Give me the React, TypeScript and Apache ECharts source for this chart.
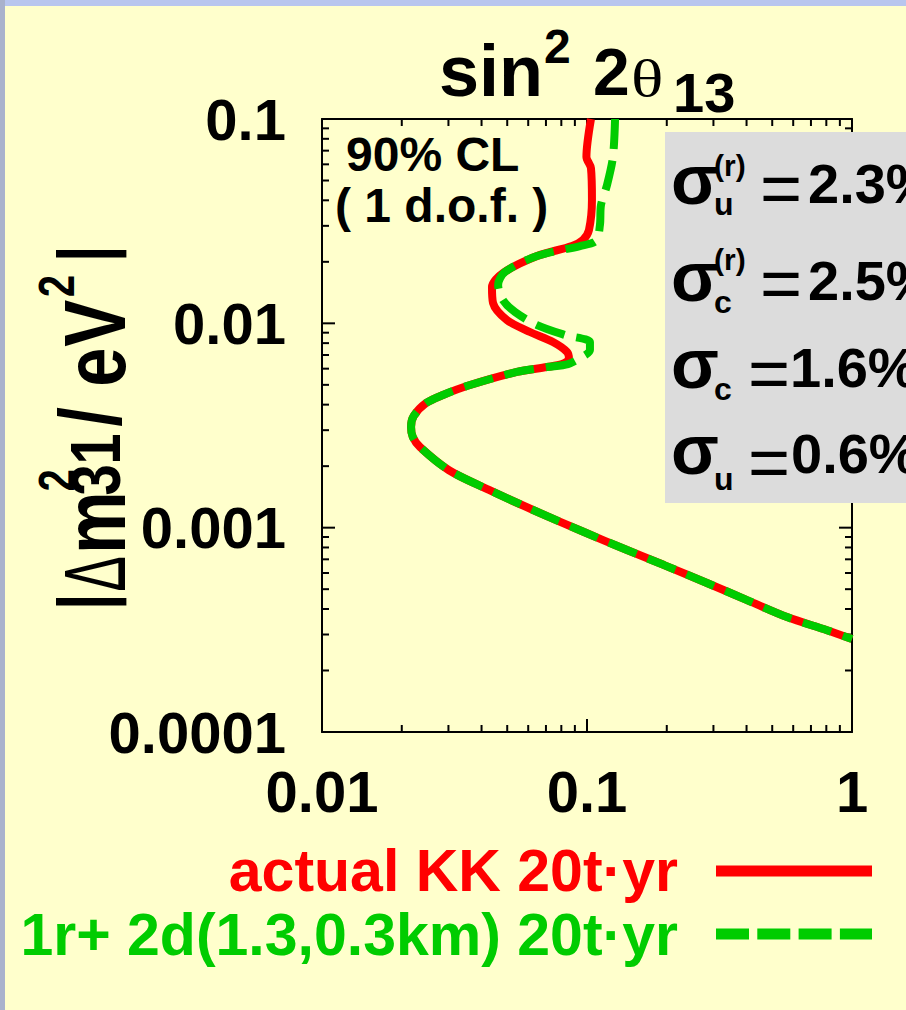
import React, { useEffect, useRef } from "react";
import * as echarts from "echarts";

// ---- axis ticks / labels ----
const xMajorTicks = [0.01, 0.1, 1];
const xTickLabels = ["0.01", "0.1", "1"];
const yMajorTicks = [0.0001, 0.001, 0.01, 0.1];
const yTickLabels = ["0.0001", "0.001", "0.01", "0.1"];
const minorMultipliers = [2, 3, 4, 5, 6, 7, 8, 9];

// ---- curves: sin^2 2theta13 (x) vs |dm^2_31| (y) ----
const redSin2 = [
  0.1035, 0.0995, 0.1035, 0.1044, 0.1017, 0.0966, 0.0878, 0.0648, 0.0482, 0.0438,
  0.0442, 0.0499, 0.0609, 0.0744, 0.0841, 0.0855, 0.0805, 0.0706, 0.0544, 0.0362,
  0.0286, 0.0247, 0.0222, 0.02168, 0.022, 0.02343, 0.03014, 0.04268, 0.0626, 0.0974,
  0.1416, 0.1953, 0.2836, 0.4017, 0.5685, 0.805, 1.0,
];
const redDm2 = [
  0.1, 0.0652, 0.0575, 0.0401, 0.0286, 0.0256, 0.0239, 0.02135, 0.01763, 0.01505,
  0.01258, 0.01038, 0.00907, 0.0081, 0.00724, 0.00669, 0.00632, 0.00611, 0.00578, 0.00499,
  0.00446, 0.00407, 0.00352, 0.00311, 0.00278, 0.00248, 0.00191, 0.00153, 0.00122, 0.000952,
  0.000777, 0.000656, 0.000536, 0.000442, 0.000365, 0.000315, 0.000285,
];
const greenSin2 = [
  0.1276, 0.1253, 0.119, 0.1129, 0.1119, 0.1081, 0.0941, 0.0648, 0.049, 0.0462,
  0.0482, 0.0535, 0.0648, 0.0826, 0.1026, 0.1026, 0.0941, 0.0848, 0.0706, 0.0544,
  0.0362, 0.0286, 0.0247, 0.0222, 0.02168, 0.022, 0.02343, 0.03014, 0.04268, 0.0626,
  0.0974, 0.1416, 0.1953, 0.2836, 0.4017, 0.5685, 0.805, 1.0,
];
const greenDm2 = [
  0.1, 0.0652, 0.0475, 0.0379, 0.0303, 0.0253, 0.0239, 0.02135, 0.01783, 0.0154,
  0.013, 0.01136, 0.00981, 0.00877, 0.0081, 0.0074, 0.00676, 0.00632, 0.00611, 0.00578,
  0.00499, 0.00446, 0.00407, 0.00352, 0.00311, 0.00278, 0.00248, 0.00191, 0.00153, 0.00122,
  0.000952, 0.000777, 0.000656, 0.000536, 0.000442, 0.000365, 0.000315, 0.000285,
];

const seriesNames = ["actual KK 20t\u00B7yr", "1r+ 2d(1.3,0.3km) 20t\u00B7yr"];

const FONT = '"Liberation Sans", Arial, Helvetica, sans-serif';
const SERIF = '"Liberation Serif", "Times New Roman", serif';

function minorOf(majors: number[]) {
  const out: number[] = [];
  for (let i = 0; i < majors.length - 1; i++) {
    for (const m of minorMultipliers) out.push(Number((m * majors[i]).toPrecision(6)));
  }
  return out;
}

function labelFor(v: number, majors: number[], labels: string[]) {
  const i = Math.round(Math.log10(v) - Math.log10(majors[0]));
  return labels[i] ?? "";
}

type TOpts = {
  weight?: string;
  family?: string;
  fill?: string;
  align?: string;
  z?: number;
  scaleX?: number;
};
function txt(text: string, x: number, y: number, fontSize: number, o: TOpts = {}) {
  return {
    type: "text",
    x,
    y,
    z: o.z ?? 60,
    scaleX: o.scaleX ?? 1,
    silent: true,
    style: {
      text,
      fontSize,
      fontWeight: o.weight ?? "bold",
      fontFamily: o.family ?? FONT,
      fill: o.fill ?? "#000",
      align: o.align ?? "left",
      verticalAlign: "middle",
    },
  };
}

export default function App() {
  const ref = useRef<HTMLDivElement>(null);

  useEffect(() => {
    document.body.style.margin = "0";
    if (!ref.current) return;
    const chart = echarts.init(ref.current, null, { renderer: "svg" });

    const yTickData = [
      ...yMajorTicks.map((v) => [xMajorTicks[0], v, 1]),
      ...minorOf(yMajorTicks).map((v) => [xMajorTicks[0], v, 0]),
    ];
    const xTickData = [
      ...xMajorTicks.map((v) => [v, yMajorTicks[0], 1]),
      ...minorOf(xMajorTicks).map((v) => [v, yMajorTicks[0], 0]),
    ];
    const tickStyle = { stroke: "#000", lineWidth: 2 };

    const axisLine = { show: true, onZero: false, lineStyle: { color: "#000", width: 2 } };

    const option: any = {
      animation: false,
      backgroundColor: "#FFFFCC",
      textStyle: { fontFamily: FONT },
      grid: { left: 322, top: 119, width: 530, height: 613, containLabel: false },
      xAxis: [
        {
          type: "log",
          logBase: 10,
          min: 0.01,
          max: 1,
          position: "bottom",
          axisLine,
          axisTick: { show: false },
          splitLine: { show: false },
          minorTick: { show: false },
          axisLabel: {
            fontSize: 58,
            fontWeight: "bold",
            color: "#000",
            fontFamily: FONT,
            margin: 30,
            formatter: (v: number) => labelFor(v, xMajorTicks, xTickLabels),
          },
        },
        {
          type: "log",
          logBase: 10,
          min: 0.01,
          max: 1,
          position: "top",
          axisLine,
          axisTick: { show: false },
          splitLine: { show: false },
          axisLabel: { show: false },
        },
      ],
      yAxis: [
        {
          type: "log",
          logBase: 10,
          min: 0.0001,
          max: 0.1,
          position: "left",
          axisLine,
          axisTick: { show: false },
          splitLine: { show: false },
          minorTick: { show: false },
          axisLabel: {
            fontSize: 58,
            fontWeight: "bold",
            color: "#000",
            fontFamily: FONT,
            margin: 36,
            formatter: (v: number) => labelFor(v, yMajorTicks, yTickLabels),
          },
        },
        {
          type: "log",
          logBase: 10,
          min: 0.0001,
          max: 0.1,
          position: "right",
          axisLine,
          axisTick: { show: false },
          splitLine: { show: false },
          axisLabel: { show: false },
        },
      ],
      series: [
        {
          name: "yticks",
          type: "custom",
          xAxisIndex: 0,
          yAxisIndex: 0,
          clip: false,
          silent: true,
          z: 5,
          encode: { x: 0, y: 1 },
          data: yTickData,
          renderItem: (params: any, api: any) => {
            const cs = params.coordSys;
            const p = api.coord([api.value(0), api.value(1)]);
            const len = api.value(2) ? 13 : 7;
            return {
              type: "group",
              children: [
                { type: "line", shape: { x1: cs.x, y1: p[1], x2: cs.x + len, y2: p[1] }, style: tickStyle },
                {
                  type: "line",
                  shape: { x1: cs.x + cs.width, y1: p[1], x2: cs.x + cs.width - len, y2: p[1] },
                  style: tickStyle,
                },
              ],
            };
          },
        },
        {
          name: "xticks",
          type: "custom",
          xAxisIndex: 0,
          yAxisIndex: 0,
          clip: false,
          silent: true,
          z: 5,
          encode: { x: 0, y: 1 },
          data: xTickData,
          renderItem: (params: any, api: any) => {
            const cs = params.coordSys;
            const p = api.coord([api.value(0), api.value(1)]);
            const len = api.value(2) ? 13 : 7;
            return {
              type: "group",
              children: [
                {
                  type: "line",
                  shape: { x1: p[0], y1: cs.y + cs.height, x2: p[0], y2: cs.y + cs.height - len },
                  style: tickStyle,
                },
                { type: "line", shape: { x1: p[0], y1: cs.y, x2: p[0], y2: cs.y + len }, style: tickStyle },
              ],
            };
          },
        },
        {
          name: seriesNames[0],
          type: "line",
          xAxisIndex: 0,
          yAxisIndex: 0,
          z: 6,
          symbol: "none",
          showSymbol: false,
          smooth: 0.3,
          lineStyle: { color: "#FF0000", width: 8 },
          data: redSin2.map((x, i) => [x, redDm2[i]]),
        },
        {
          name: seriesNames[1],
          type: "line",
          xAxisIndex: 0,
          yAxisIndex: 0,
          z: 7,
          symbol: "none",
          showSymbol: false,
          smooth: 0.3,
          lineStyle: { color: "#00CC00", width: 8, type: [30, 12] },
          data: greenSin2.map((x, i) => [x, greenDm2[i]]),
        },
      ],
      graphic: {
        elements: [
          // slide border strips
          { type: "rect", z: 1, silent: true, shape: { x: 0, y: 0, width: 906, height: 6 }, style: { fill: "#B8C6EE" } },
          { type: "rect", z: 1, silent: true, shape: { x: 0, y: 0, width: 5, height: 1010 }, style: { fill: "#A9B2CC" } },

          // title: sin^2 2θ13
          txt("sin", 439, 71, 72),
          txt("2", 544, 46, 48),
          txt("2", 593, 72, 66),
          txt("\u03B8", 631, 78, 52, { weight: "normal", family: SERIF, scaleX: 1.3 }),
          txt("13", 673, 92, 56),

          // y axis title |Δm²31/eV²| (rotated)
          {
            type: "group",
            x: 125,
            y: 610,
            rotation: Math.PI / 2,
            scaleX: 0.8,
            silent: true,
            children: [
              txt("|", 0, -41, 74),
              txt("\u0394", 23, -31, 88, { weight: "normal", scaleX: 0.75 }),
              txt("m", 70, -30, 88),
              txt("2", 148, -68, 50),
              txt("31", 143, -29, 70),
              txt("/", 229, -35, 88),
              txt("e", 279, -30, 88),
              txt("V", 329, -30, 88),
              txt("2", 391, -68, 50),
              txt("|", 435, -41, 74),
            ],
          },

          // confidence level note
          txt("90% CL", 346, 154, 48),
          txt("( 1 d.o.f. )", 335, 205, 48),

          // gray parameter box
          {
            type: "rect",
            z: 50,
            silent: true,
            shape: { x: 665, y: 132, width: 241, height: 371 },
            style: { fill: "#DCDCDC" },
          },
          txt("\u03C3", 671, 180, 70),
          txt("(r)", 714, 165, 30),
          txt("u", 714, 204, 32),
          txt("=", 760, 188, 72, { weight: "normal" }),
          txt("2.3%", 808, 183, 56),

          txt("\u03C3", 671, 277, 70),
          txt("(r)", 714, 259, 30),
          txt("c", 714, 302, 32),
          txt("=", 760, 283, 72, { weight: "normal" }),
          txt("2.5%", 808, 280, 56),

          txt("\u03C3", 671, 364, 70),
          txt("c", 714, 389, 32),
          txt("=", 748, 373, 72, { weight: "normal" }),
          txt("1.6%", 790, 367, 56),

          txt("\u03C3", 671, 450, 70),
          txt("u", 714, 479, 32),
          txt("=", 748, 462, 72, { weight: "normal" }),
          txt("0.6%", 791, 453, 56),

          // legend
          txt(seriesNames[0], 678, 871, 59, { align: "right", fill: "#FF0000" }),
          {
            type: "line",
            z: 60,
            silent: true,
            shape: { x1: 716, y1: 871, x2: 872, y2: 871 },
            style: { stroke: "#FF0000", lineWidth: 11 },
          },
          txt(seriesNames[1], 678, 935, 59, { align: "right", fill: "#00CC00" }),
          {
            type: "line",
            z: 60,
            silent: true,
            shape: { x1: 716, y1: 934, x2: 872, y2: 934 },
            style: { stroke: "#00CC00", lineWidth: 11, lineDash: [33, 8.3] },
          },
        ],
      },
    };

    chart.setOption(option);
    return () => chart.dispose();
  }, []);

  return <div ref={ref} style={{ width: 906, height: 1010 }} />;
}
